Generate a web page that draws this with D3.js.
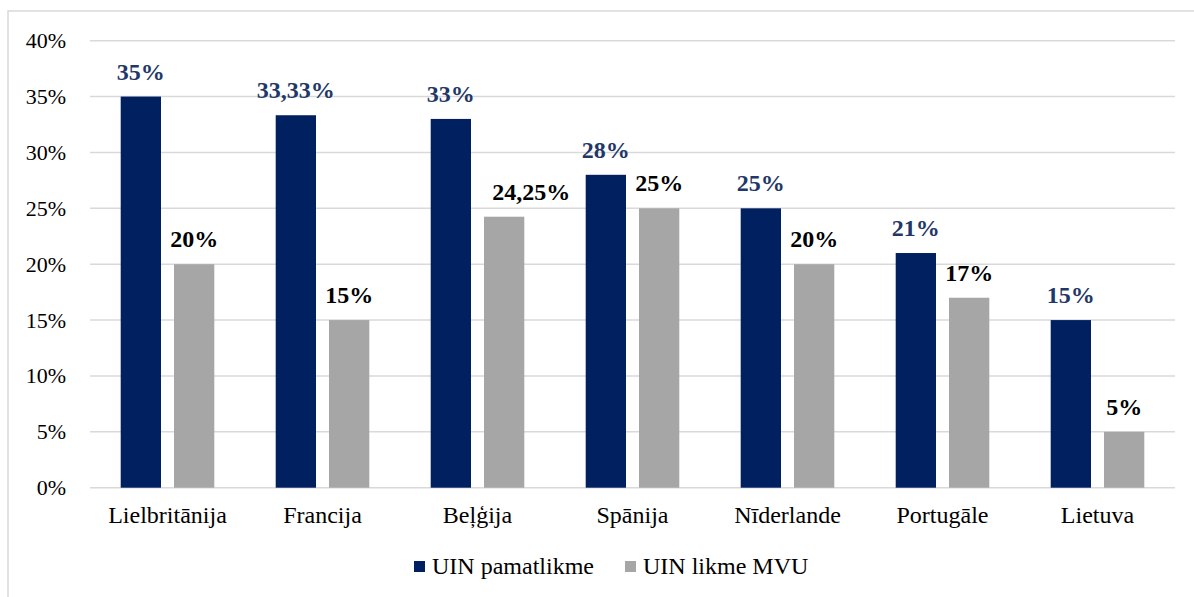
<!DOCTYPE html>
<html>
<head>
<meta charset="utf-8">
<script src="https://cdn.jsdelivr.net/npm/d3@7/dist/d3.min.js"></script>
<style>
  html, body { margin: 0; padding: 0; background: #fff; }
  svg { display: block; }
</style>
</head>
<body>
<svg id="chart" width="1194" height="597"></svg>
<script>
// Countries and rates (percent)
const categories = ["Lielbritānija", "Francija", "Beļģija", "Spānija", "Nīderlande", "Portugāle", "Lietuva"];
const baseRate = [35, 33.33, 33, 28, 25, 21, 15];
const smeRate = [20, 15, 24.25, 25, 20, 17, 5];
const seriesNames = ["UIN pamatlikme", "UIN likme MVU"];
const tickValues = [0, 5, 10, 15, 20, 25, 30, 35, 40];

const colors = ["#002060", "#A6A6A6"];
const labelColors = ["#1F3868", "#000000"];
const FONT = "'Liberation Serif', 'Times New Roman', Times, serif";

const svg = d3.select("#chart");
const W = 1194, H = 597;

// outer frame
svg.append("rect")
  .attr("x", 8).attr("y", 11)
  .attr("width", W + 20).attr("height", H + 20)
  .attr("fill", "none").attr("stroke", "#d9d9d9").attr("stroke-width", 1.5);

const plotLeft = 90, plotRight = 1175, plotTop = 40.7, plotBottom = 487.7;

const x = d3.scaleBand().domain(categories).range([plotLeft, plotRight]);
const y = d3.scaleLinear().domain([0, 40]).range([plotBottom, plotTop]);

const barW = 40.3, gap = 13;
const outer = (x.bandwidth() - 2 * barW - gap) / 2;

// gridlines
svg.append("g")
  .selectAll("line").data(tickValues).join("line")
  .attr("x1", plotLeft).attr("x2", plotRight)
  .attr("y1", d => y(d)).attr("y2", d => y(d))
  .attr("stroke", "#d9d9d9").attr("stroke-width", 1.5);

// y axis labels
const yAxis = d3.axisLeft(y).tickValues(tickValues).tickSize(0).tickPadding(0)
  .tickFormat(d => d + "%");
svg.append("g")
  .attr("transform", `translate(66,0)`)
  .call(yAxis)
  .call(g => g.select(".domain").remove())
  .call(g => g.selectAll("text")
    .style("font-family", FONT)
    .style("font-size", "22px")
    .attr("fill", "#000"));

// bars
const series = [baseRate, smeRate];
const fmt = v => String(v).replace(".", ",") + "%";
// horizontal nudge for labels that sit off-centre
const labelNudge = { "Beļģija": [0, 27] };

series.forEach((vals, si) => {
  const g = svg.append("g");
  const data = categories.map((c, i) => ({ c, v: vals[i] }));
  const bx = d => x(d.c) + outer + si * (barW + gap);
  g.selectAll("rect").data(data).join("rect")
    .attr("x", bx)
    .attr("y", d => y(d.v))
    .attr("width", barW)
    .attr("height", d => y(0) - y(d.v))
    .attr("fill", colors[si]);
  g.selectAll("text").data(data).join("text")
    .attr("x", d => bx(d) + barW / 2 + ((labelNudge[d.c] || [0, 0])[si]))
    .attr("y", d => y(d.v) - 17)
    .attr("text-anchor", "middle")
    .style("font-family", FONT)
    .style("font-size", "24px")
    .style("font-weight", "bold")
    .attr("fill", labelColors[si])
    .text(d => fmt(d.v));
});

// category labels
const xAxis = d3.axisBottom(x).tickSize(0).tickPadding(0);
svg.append("g")
  .attr("transform", `translate(0,${plotBottom})`)
  .call(xAxis)
  .call(g => g.select(".domain").remove())
  .call(g => g.selectAll("text")
    .attr("dy", null)
    .attr("y", 35)
    .style("font-family", FONT)
    .style("font-size", "24px")
    .attr("fill", "#000"));

// legend
const legendX = [414, 625];
const lg = svg.append("g");
seriesNames.forEach((name, i) => {
  lg.append("rect")
    .attr("x", legendX[i]).attr("y", 561)
    .attr("width", 11).attr("height", 11)
    .attr("fill", colors[i]);
  lg.append("text")
    .attr("x", legendX[i] + 18).attr("y", 574)
    .style("font-family", FONT)
    .style("font-size", "24px")
    .attr("fill", "#000")
    .text(name);
});
</script>
</body>
</html>
